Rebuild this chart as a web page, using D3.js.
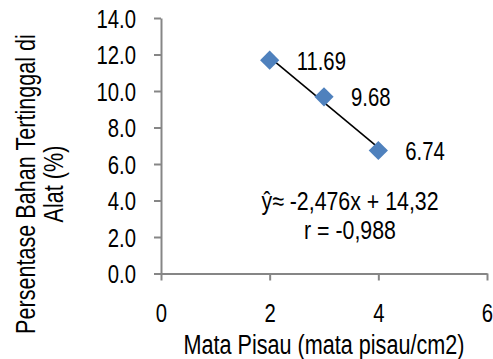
<!DOCTYPE html>
<html>
<head>
<meta charset="utf-8">
<script src="https://cdn.jsdelivr.net/npm/d3@7"></script>
<style>
  body { margin: 0; background: #fff; }
  text { font-family: "Liberation Sans", Arial, sans-serif; fill: #000; }
</style>
</head>
<body>
<div id="chart"></div>
<script>
// data
const bladeCounts = [2, 3, 4];
const residuePct = [11.69, 9.68, 6.74];
const pointLabels = ['11.69', '9.68', '6.74'];
const xTicks = [0, 2, 4, 6];
const yTicks = [0, 2, 4, 6, 8, 10, 12, 14];
const equationLines = ['ŷ≈ -2,476x + 14,32', 'r = -0,988'];
const xTitle = 'Mata Pisau (mata pisau/cm2)';
const yTitleLines = ['Persentase Bahan Tertinggal di', 'Alat (%)'];

const width = 493, height = 359;
const margin = { top: 18, right: 6, bottom: 85.5, left: 161 };
const axisColor = '#868686';
const pointColor = '#4F81BD';

// squeeze text horizontally, the reference uses a narrow face
function condense(sel, factor) {
  sel.each(function () {
    const len = this.getComputedTextLength();
    d3.select(this).attr('textLength', len * factor).attr('lengthAdjust', 'spacingAndGlyphs');
  });
}

const svg = d3.select('#chart').append('svg')
  .attr('width', width)
  .attr('height', height);

const xScale = d3.scaleLinear().domain([0, 6]).range([margin.left, width - margin.right]);
const yScale = d3.scaleLinear().domain([0, 14]).range([height - margin.bottom, margin.top]);

// y axis
const yAxis = svg.append('g')
  .attr('transform', `translate(${margin.left},0)`)
  .call(d3.axisLeft(yScale).tickValues(yTicks).tickFormat(d3.format('.1f')).tickSize(7).tickSizeOuter(0).tickPadding(18));
yAxis.select('.domain').attr('stroke', axisColor).attr('stroke-width', 2);
yAxis.selectAll('.tick line').attr('stroke', axisColor).attr('stroke-width', 2);
yAxis.selectAll('.tick text').attr('font-size', 26).attr('dy', '0.36em').attr('font-family', null).call(condense, 0.78);

// x axis
const xAxis = svg.append('g')
  .attr('transform', `translate(0,${yScale(0)})`)
  .call(d3.axisBottom(xScale).tickValues(xTicks).tickFormat(d3.format('d')).tickSize(7).tickSizeOuter(0).tickPadding(23));
xAxis.select('.domain').attr('stroke', axisColor).attr('stroke-width', 2);
xAxis.selectAll('.tick line').attr('stroke', axisColor).attr('stroke-width', 2);
xAxis.selectAll('.tick text').attr('font-size', 26).attr('font-family', null).call(condense, 0.78);

// least squares trend line through the points
const mx = d3.mean(bladeCounts), my = d3.mean(residuePct);
const slope = d3.sum(bladeCounts, (x, i) => (x - mx) * (residuePct[i] - my)) / d3.sum(bladeCounts, x => (x - mx) ** 2);
const intercept = my - slope * mx;
const xMin = d3.min(bladeCounts), xMax = d3.max(bladeCounts);
svg.append('line')
  .attr('x1', xScale(xMin)).attr('y1', yScale(slope * xMin + intercept))
  .attr('x2', xScale(xMax)).attr('y2', yScale(slope * xMax + intercept))
  .attr('stroke', '#000')
  .attr('stroke-width', 1.6);

// diamond markers
const pts = svg.append('g').selectAll('g')
  .data(bladeCounts.map((x, i) => ({ x, y: residuePct[i], label: pointLabels[i] })))
  .enter().append('g')
  .attr('transform', d => `translate(${xScale(d.x)},${yScale(d.y)})`);
pts.append('rect')
  .attr('x', -6.8).attr('y', -6.8)
  .attr('width', 13.6).attr('height', 13.6)
  .attr('transform', 'rotate(45)')
  .attr('fill', pointColor);
pts.append('text')
  .attr('x', 27)
  .attr('dy', '0.36em')
  .attr('font-size', 26)
  .text(d => d.label)
  .call(condense, 0.78);

// equation annotation
svg.append('g').selectAll('text')
  .data(equationLines)
  .enter().append('text')
  .attr('x', 350)
  .attr('y', (d, i) => 210 + i * 29)
  .attr('text-anchor', 'middle')
  .attr('font-size', 26)
  .text(d => d)
  .call(condense, 0.82);

// axis titles
svg.append('text')
  .attr('x', (margin.left + width - margin.right) / 2)
  .attr('y', 354)
  .attr('text-anchor', 'middle')
  .attr('font-size', 27)
  .text(xTitle)
  .call(condense, 0.8);

svg.append('g')
  .attr('transform', 'translate(35,184) rotate(-90)')
  .selectAll('text')
  .data(yTitleLines)
  .enter().append('text')
  .attr('x', 0)
  .attr('y', (d, i) => i * 28)
  .attr('text-anchor', 'middle')
  .attr('font-size', 27)
  .text(d => d)
  .call(condense, 0.8);
</script>
</body>
</html>
